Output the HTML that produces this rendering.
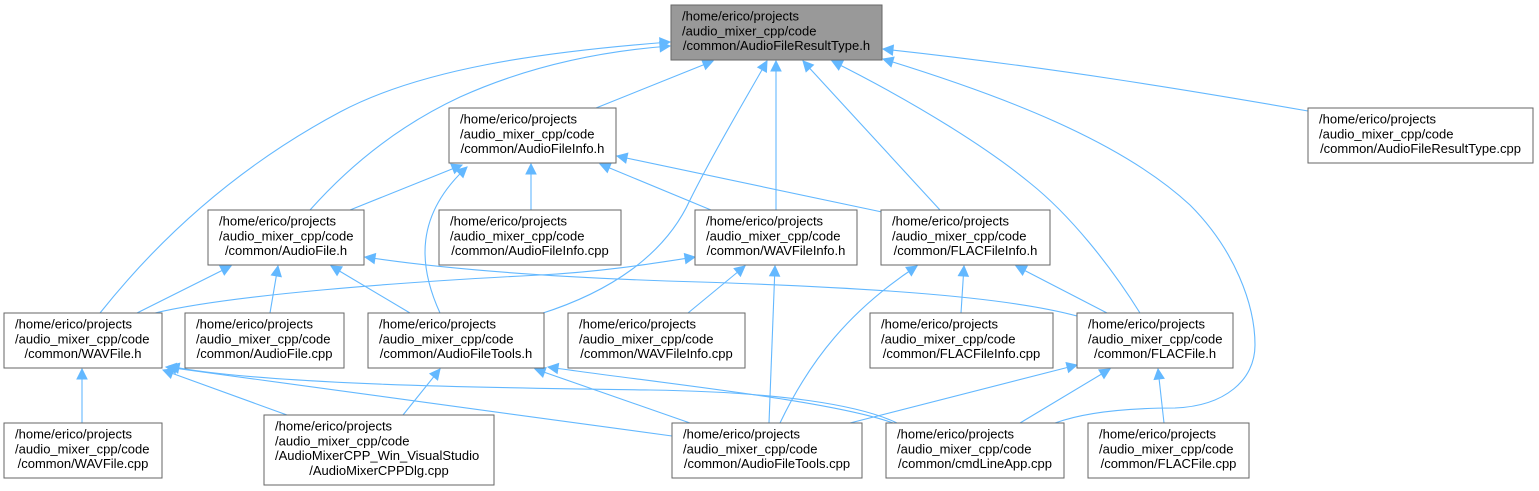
<!DOCTYPE html>
<html>
<head>
<meta charset="utf-8">
<style>
html,body{margin:0;padding:0;background:#fff;}
svg{display:block;}
text{font-family:"Liberation Sans",Arial,sans-serif;font-size:13px;fill:#000;}
.e{fill:none;stroke:#63b8ff;stroke-width:1.1;marker-end:url(#ah);}
.n{fill:#fff;stroke:#666;stroke-width:1;}
</style>
</head>
<body>
<svg width="1539" height="491" viewBox="0 0 1539 491" xmlns="http://www.w3.org/2000/svg">
<defs>
<marker id="ah" markerWidth="10" markerHeight="10" refX="10" refY="5" orient="auto" markerUnits="userSpaceOnUse" viewBox="0 0 10 10" overflow="visible">
<path d="M0,0 L10,5 L0,10 Z" fill="#63b8ff" stroke="#63b8ff" stroke-width="1"/>
</marker>
</defs>
<rect x="0" y="0" width="1539" height="491" fill="#fff"/>

<!-- edges -->
<path class="e" d="M100,313 C170,225 250,160 340,112 C421,69 540,52 670,42"/>
<path class="e" d="M310,210 C350,165 400,125 460,97 C520,70 590,52 670,46"/>
<path class="e" d="M596,108 L713,61"/>
<path class="e" d="M540,314 C610,292 665,255 690,200 C715,150 745,100 767,61"/>
<path class="e" d="M776,210 L776,61"/>
<path class="e" d="M940,210 L803,61"/>
<path class="e" d="M1140,313 C1110,265 1070,215 1030,183 C990,150 920,105 832,61"/>
<path class="e" d="M1055,423 C1085,412 1130,408 1175,408 C1225,406 1255,380 1255,345 C1255,305 1235,250 1190,205 C1120,140 1000,95 883,59"/>
<path class="e" d="M1308,111 C1200,92 1050,67 883,49"/>

<path class="e" d="M350,210 L462,165"/>
<path class="e" d="M440,313 C418,265 415,215 467,167"/>
<path class="e" d="M531,210 L531,164"/>
<path class="e" d="M711,210 L600,164"/>
<path class="e" d="M882,212 L617,156"/>

<path class="e" d="M137,313 L231,266"/>
<path class="e" d="M270,313 L278,266"/>
<path class="e" d="M410,313 L331,266"/>
<path class="e" d="M1077,316 C1000,295 850,287 700,282 C560,278 450,270 365,257"/>

<path class="e" d="M155,313 C230,295 400,282 540,275 C600,272 650,264 695,257"/>
<path class="e" d="M688,313 L745,266"/>
<path class="e" d="M769,423 L775,266"/>

<path class="e" d="M780,423 C810,360 850,310 917,266"/>
<path class="e" d="M961,313 L964,266"/>
<path class="e" d="M1107,313 L1016,266"/>

<path class="e" d="M82,423 L82,369"/>
<path class="e" d="M287,415 L163,370"/>
<path class="e" d="M672,436 L166,367"/>
<path class="e" d="M897,423 C860,405 780,392 650,390 C500,388 260,385 169,366"/>

<path class="e" d="M403,415 L440,369"/>
<path class="e" d="M690,423 L535,369"/>
<path class="e" d="M893,423 C830,400 650,382 548,367"/>

<path class="e" d="M850,423 L1077,365"/>
<path class="e" d="M1020,423 L1110,369"/>
<path class="e" d="M1164,423 L1158,369"/>

<!-- nodes -->
<rect x="671" y="5" width="211" height="55" fill="#999999" stroke="#666" stroke-width="1"/>
<text x="682" y="20.7">/home/erico/projects</text>
<text x="682" y="35.4">/audio_mixer_cpp/code</text>
<text x="776.5" y="50.1" text-anchor="middle">/common/AudioFileResultType.h</text>

<rect class="n" x="449" y="108" width="167" height="55"/>
<text x="460" y="123.7">/home/erico/projects</text>
<text x="460" y="138.4">/audio_mixer_cpp/code</text>
<text x="532.5" y="153.1" text-anchor="middle">/common/AudioFileInfo.h</text>

<rect class="n" x="1308" y="108" width="225" height="55"/>
<text x="1319" y="123.7">/home/erico/projects</text>
<text x="1319" y="138.4">/audio_mixer_cpp/code</text>
<text x="1420.5" y="153.1" text-anchor="middle">/common/AudioFileResultType.cpp</text>

<rect class="n" x="208" y="210" width="156" height="55"/>
<text x="219" y="225.7">/home/erico/projects</text>
<text x="219" y="240.4">/audio_mixer_cpp/code</text>
<text x="286" y="255.1" text-anchor="middle">/common/AudioFile.h</text>

<rect class="n" x="439" y="210" width="182" height="55"/>
<text x="450" y="225.7">/home/erico/projects</text>
<text x="450" y="240.4">/audio_mixer_cpp/code</text>
<text x="530" y="255.1" text-anchor="middle">/common/AudioFileInfo.cpp</text>

<rect class="n" x="695" y="210" width="162" height="55"/>
<text x="706" y="225.7">/home/erico/projects</text>
<text x="706" y="240.4">/audio_mixer_cpp/code</text>
<text x="776" y="255.1" text-anchor="middle">/common/WAVFileInfo.h</text>

<rect class="n" x="881" y="210" width="169" height="55"/>
<text x="892" y="225.7">/home/erico/projects</text>
<text x="892" y="240.4">/audio_mixer_cpp/code</text>
<text x="965.5" y="255.1" text-anchor="middle">/common/FLACFileInfo.h</text>

<rect class="n" x="4" y="313" width="158" height="55"/>
<text x="15" y="328.7">/home/erico/projects</text>
<text x="15" y="343.4">/audio_mixer_cpp/code</text>
<text x="83" y="358.1" text-anchor="middle">/common/WAVFile.h</text>

<rect class="n" x="185" y="313" width="159" height="55"/>
<text x="196" y="328.7">/home/erico/projects</text>
<text x="196" y="343.4">/audio_mixer_cpp/code</text>
<text x="264.5" y="358.1" text-anchor="middle">/common/AudioFile.cpp</text>

<rect class="n" x="368" y="313" width="176" height="55"/>
<text x="379" y="328.7">/home/erico/projects</text>
<text x="379" y="343.4">/audio_mixer_cpp/code</text>
<text x="456" y="358.1" text-anchor="middle">/common/AudioFileTools.h</text>

<rect class="n" x="568" y="313" width="177" height="55"/>
<text x="579" y="328.7">/home/erico/projects</text>
<text x="579" y="343.4">/audio_mixer_cpp/code</text>
<text x="656.5" y="358.1" text-anchor="middle">/common/WAVFileInfo.cpp</text>

<rect class="n" x="870" y="313" width="183" height="55"/>
<text x="881" y="328.7">/home/erico/projects</text>
<text x="881" y="343.4">/audio_mixer_cpp/code</text>
<text x="961.5" y="358.1" text-anchor="middle">/common/FLACFileInfo.cpp</text>

<rect class="n" x="1077" y="313" width="156" height="55"/>
<text x="1088" y="328.7">/home/erico/projects</text>
<text x="1088" y="343.4">/audio_mixer_cpp/code</text>
<text x="1155" y="358.1" text-anchor="middle">/common/FLACFile.h</text>

<rect class="n" x="4" y="423" width="158" height="55"/>
<text x="15" y="438.7">/home/erico/projects</text>
<text x="15" y="453.4">/audio_mixer_cpp/code</text>
<text x="83" y="468.1" text-anchor="middle">/common/WAVFile.cpp</text>

<rect class="n" x="264" y="415" width="230" height="70"/>
<text x="275" y="430.7">/home/erico/projects</text>
<text x="275" y="445.4">/audio_mixer_cpp/code</text>
<text x="275" y="460.1">/AudioMixerCPP_Win_VisualStudio</text>
<text x="379" y="474.8" text-anchor="middle">/AudioMixerCPPDlg.cpp</text>

<rect class="n" x="672" y="423" width="190" height="55"/>
<text x="683" y="438.7">/home/erico/projects</text>
<text x="683" y="453.4">/audio_mixer_cpp/code</text>
<text x="767" y="468.1" text-anchor="middle">/common/AudioFileTools.cpp</text>

<rect class="n" x="886" y="423" width="178" height="55"/>
<text x="897" y="438.7">/home/erico/projects</text>
<text x="897" y="453.4">/audio_mixer_cpp/code</text>
<text x="975" y="468.1" text-anchor="middle">/common/cmdLineApp.cpp</text>

<rect class="n" x="1088" y="423" width="161" height="55"/>
<text x="1099" y="438.7">/home/erico/projects</text>
<text x="1099" y="453.4">/audio_mixer_cpp/code</text>
<text x="1168.5" y="468.1" text-anchor="middle">/common/FLACFile.cpp</text>
</svg>
</body>
</html>
